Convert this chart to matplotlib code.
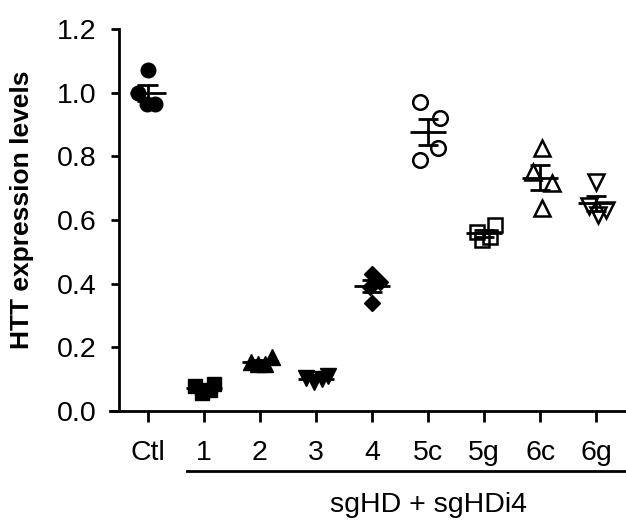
import matplotlib.pyplot as plt
import numpy as np

plt.rcParams['font.family'] = ['Liberation Sans', 'DejaVu Sans']

groups = ['Ctl', '1', '2', '3', '4', '5c', '5g', '6c', '6g']
values = [
    [1.07, 1.00, 0.965, 0.965],
    [0.08, 0.055, 0.065, 0.085],
    [0.155, 0.148, 0.148, 0.17],
    [0.105, 0.09, 0.10, 0.11],
    [0.43, 0.405, 0.39, 0.34],
    [0.97, 0.92, 0.826, 0.79],
    [0.563, 0.584, 0.537, 0.547],
    [0.826, 0.75, 0.716, 0.638],
    [0.72, 0.645, 0.615, 0.63],
]

# horizontal scatter of the points inside each column (pixels)
jitter_px = [
    [0, -10, -1, 7],
    [-9, -2, 6, 10],
    [-9, -2, 5, 12],
    [-10, -2, 6, 12],
    [0, 8, -2, 0],
    [-8, 12, 10, -8],
    [-7, 11, -2, 6],
    [2, -7, 12, 2],
    [0, -7, 2, 10],
]
markers = ['o', 's', '^', 'v', 'D', 'o', 's', '^', 'v']
filled = [True, True, True, True, True, False, False, False, False]
msizes = [10.5, 10, 11, 11, 8.5, 10.5, 10, 11, 11]

fig = plt.figure(figsize=(6.26, 5.27), dpi=100)
ax = fig.add_axes([110 / 626, 116 / 527, 516 / 626, 382 / 527])

px = 56.04  # pixels per category
for i, vals in enumerate(values):
    xs = i + np.array(jitter_px[i]) / px
    if filled[i]:
        ax.plot(xs, vals, linestyle='none', marker=markers[i], ms=msizes[i],
                mfc='black', mec='black', mew=1, clip_on=False, zorder=3)
    else:
        ax.plot(xs, vals, linestyle='none', marker=markers[i], ms=msizes[i],
                mfc='none', mec='black', mew=1.8, clip_on=False, zorder=3)
    m = np.mean(vals)
    sem = np.std(vals, ddof=1) / np.sqrt(len(vals))
    ax.hlines(m, i - 0.32, i + 0.32, color='black', lw=2, zorder=4)
    ax.hlines([m - sem, m + sem], i - 0.18, i + 0.18, color='black', lw=2, zorder=4)
    ax.vlines(i, m - sem, m + sem, color='black', lw=2, zorder=4)

ax.set_xlim(-0.67, 8.53)
ax.set_ylim(0, 1.2)
ax.spines['top'].set_visible(False)
ax.spines['right'].set_visible(False)
ax.spines['left'].set_position(('data', -0.51))
ax.spines['left'].set_linewidth(2)
ax.spines['bottom'].set_linewidth(2)

ax.set_yticks([0, 0.2, 0.4, 0.6, 0.8, 1.0, 1.2])
ax.set_yticklabels(['0.0', '0.2', '0.4', '0.6', '0.8', '1.0', '1.2'])
ax.set_xticks(range(len(groups)))
ax.set_xticklabels(groups)
ax.tick_params(axis='y', length=6, width=2, pad=10, labelsize=20.5)
ax.tick_params(axis='x', length=8, width=2, pad=13, labelsize=20.5)

ax.set_ylabel('HTT expression levels', fontsize=19, fontweight='bold',
              va='center')
ax.yaxis.set_label_coords(-0.17, 0.526)

trans = ax.get_xaxis_transform()
ax.plot([0.70, 8.53], [-0.157, -0.157], color='black', lw=2,
        transform=trans, clip_on=False)
ax.text(5.0, -0.246, 'sgHD + sgHDi4', transform=trans, ha='center',
        va='center', fontsize=20.5)

plt.savefig('out.png', dpi=100)
